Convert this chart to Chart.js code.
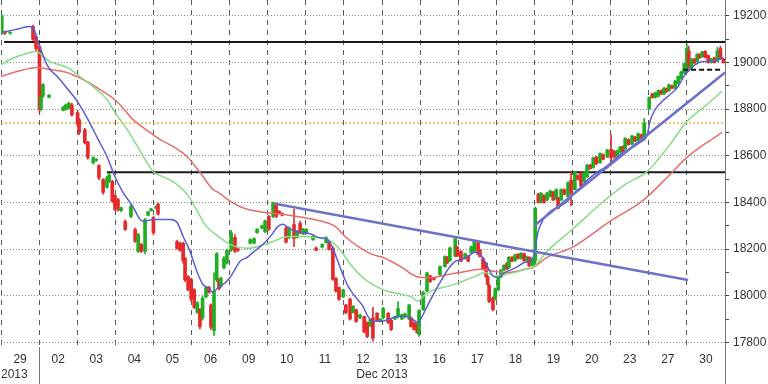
<!DOCTYPE html>
<html><head><meta charset="utf-8">
<script src="https://cdn.jsdelivr.net/npm/chart.js@4/dist/chart.umd.min.js"></script>
<style>html,body{margin:0;padding:0;background:#fff;}canvas{display:block;}</style>
</head><body>
<canvas id="c" width="768" height="384"></canvas>
<script>
// ---- categories / labels ----
const dayLabels = ['29','02','03','04','05','06','09','10','11','12','13','16','17','18','19','20','23','27','30'];
const monthLabels = ['2013','Dec 2013'];
const monthLabelPos = [0.35, 10];
const monthBoundaries = [1, 19];

// ---- candles (time in trading-day units) ----
const candleTime = [
 0.02,0.1,0.24,0.84,0.92,
 1.01,1.05,1.1,1.26,1.63,1.7,1.78,1.86,
 2.01,2.05,2.2,2.28,2.42,2.5,2.57,2.68,2.78,2.84,2.92,2.99,
 3.07,3.15,3.26,3.41,3.52,3.6,3.68,3.78,3.86,3.94,4.0,4.07,4.12,
 4.62,4.7,4.78,4.83,4.91,4.99,
 5.07,5.15,5.22,5.29,5.38,5.46,5.51,5.59,5.66,5.72,5.77,5.85,5.93,
 6.04,6.14,6.22,6.54,6.64,6.72,6.85,6.93,
 7.03,7.14,7.22,7.3,7.38,7.48,7.56,7.69,7.77,7.85,7.93,
 8.01,8.19,8.27,8.43,8.53,8.61,8.71,8.79,8.87,8.98,
 9.05,9.16,9.24,9.32,9.42,9.53,9.61,9.69,9.76,9.87,9.95,
 10.03,10.16,10.24,10.34,10.42,10.52,10.6,10.71,10.76,10.84,10.92,10.97,
 11.08,11.18,11.26,11.36,11.52,11.65,11.71,11.78,11.92,11.97,
 12.07,12.18,12.26,12.34,12.42,12.52,12.57,12.65,12.73,12.77,12.81,12.91,12.97,
 13.05,13.12,13.2,13.28,13.33,13.41,13.49,13.57,13.65,13.73,13.8,13.86,13.94,
 14.02,14.1,14.17,14.25,14.33,14.41,14.49,14.57,14.62,14.7,14.78,14.88,14.96,
 15.06,15.14,15.22,15.3,15.38,15.46,15.54,15.62,15.72,15.8,15.91,
 16.01,16.09,16.17,16.25,16.32,16.38,16.47,16.56,16.64,16.72,16.8,16.88,
 17.01,17.09,17.17,17.25,17.33,17.4,17.47,17.53,17.61,17.69,17.77,17.85,17.93,
 18.0,18.05,18.12,18.2,18.27,18.33,18.4,18.48,18.56,18.64,18.72,18.8,18.88,18.96
];
const candleOpen = [
 19127,19130,19125,19155,19110,
 19068,18800,18855,18850,18795,18800,18805,18818,
 18785,18755,18712,18658,18570,18580,18558,18498,18465,18490,18490,18430,
 18412,18365,18318,18340,18284,18190,18220,18190,18345,18365,18335,18375,18392,
 18232,18225,18225,18160,18082,18070,
 18026,17928,17940,17905,17995,18035,17960,17850,18068,18070,18040,18120,18140,
 18195,18250,18200,18225,18225,18270,18290,18275,
 18340,18340,18390,18362,18352,18290,18250,18305,18250,18310,18265,
 18268,18240,18205,18208,18228,18228,18205,18075,18035,17995,
 17960,17985,17928,17940,17905,17910,17885,17870,17905,17925,17890,
 17905,17925,17895,17900,17910,17900,17910,17900,17905,17885,17880,17835,
 17940,18020,18085,18075,18090,18125,18165,18150,18170,18210,
 18190,18160,18170,18185,18190,18228,18195,18160,18140,18082,18045,17990,17985,
 18025,18080,18110,18140,18120,18165,18150,18178,18160,18180,18150,18165,18130,
 18150,18435,18400,18430,18410,18425,18445,18415,18420,18410,18455,18425,18495,
 18455,18515,18525,18490,18510,18560,18550,18595,18570,18605,18595,
 18628,18620,18600,18615,18640,18630,18670,18650,18680,18665,18690,18672,
 18800,18865,18850,18855,18880,18865,18888,18880,18900,18890,18910,18930,18955,
 18975,19050,18975,19015,19005,19035,19025,19048,19030,19000,19020,19005,19060,19015
];
const candleHigh = [
 19205,19135,19132,19160,19115,
 19075,18860,18910,18862,18812,18822,18830,18825,
 18790,18760,18718,18662,18596,18588,18562,18502,18512,18525,18495,18433,
 18418,18380,18325,18390,18290,18268,18225,18332,18362,18375,18340,18385,18398,
 18238,18230,18230,18165,18086,18075,
 18030,17975,17945,17998,18040,18040,17965,18098,18185,18075,18080,18168,18200,
 18280,18262,18205,18245,18248,18288,18303,18325,
 18345,18400,18398,18365,18356,18295,18295,18370,18280,18320,18288,
 18288,18258,18208,18223,18253,18231,18210,18078,18038,18028,
 17963,17990,17958,17943,17921,17913,17888,17900,17950,17928,17902,
 17950,17928,17898,17913,17975,17921,17925,17963,17908,17888,17883,17940,
 18018,18101,18088,18078,18128,18171,18168,18208,18252,18213,
 18193,18183,18173,18213,18235,18231,18198,18163,18143,18085,18050,17995,18033,
 18083,18113,18133,18143,18168,18168,18178,18181,18185,18183,18170,18168,18163,
 18380,18440,18443,18433,18443,18453,18448,18458,18423,18458,18458,18488,18530,
 18533,18518,18528,18530,18563,18563,18593,18598,18613,18608,18628,
 18690,18623,18625,18641,18643,18678,18673,18688,18683,18698,18693,18760,
 18853,18868,18873,18883,18883,18893,18891,18908,18903,18923,18943,18963,18998,
 19080,19070,19018,19018,19038,19038,19048,19051,19033,19018,19023,19065,19070,19018
];
const candleLow = [
 19120,19120,19122,19095,19050,
 18785,18795,18850,18848,18792,18795,18800,18770,
 18725,18690,18650,18585,18565,18576,18498,18435,18460,18485,18400,18365,
 18362,18360,18280,18335,18228,18185,18185,18180,18342,18362,18262,18372,18345,
 18198,18190,18140,18060,18020,17975,
 17945,17925,17858,17895,17990,18010,17855,17830,18060,18025,18035,18115,18135,
 18190,18185,18190,18222,18222,18267,18287,18270,
 18280,18335,18335,18352,18342,18225,18245,18210,18247,18265,18262,
 18265,18237,18192,18205,18225,18195,18065,18015,17980,17992,
 17922,17895,17925,17885,17902,17840,17820,17867,17805,17892,17887,
 17900,17880,17850,17897,17905,17897,17905,17897,17865,17852,17838,17825,
 17937,18017,18057,18067,18087,18122,18137,18147,18167,18167,
 18145,18157,18145,18182,18187,18175,18165,18109,18079,18045,17970,17935,17982,
 18022,18077,18107,18112,18117,18145,18147,18157,18157,18147,18147,18125,18127,
 18125,18397,18397,18397,18407,18422,18407,18412,18372,18407,18432,18422,18385,
 18452,18497,18467,18487,18507,18542,18547,18562,18567,18582,18592,
 18578,18592,18597,18612,18617,18627,18645,18647,18660,18662,18672,18668,
 18797,18847,18847,18852,18862,18862,18872,18877,18887,18887,18907,18927,18952,
 18965,18970,18972,18995,19002,19017,19022,19019,18997,18997,18997,19002,19012,18997
];
const candleClose = [
 19200,19125,19128,19100,19060,
 18800,18855,18905,18860,18808,18818,18825,18775,
 18735,18700,18655,18593,18592,18585,18505,18443,18505,18518,18405,18370,
 18370,18378,18284,18383,18233,18262,18190,18327,18360,18372,18270,18382,18350,
 18203,18195,18150,18068,18026,17985,
 17950,17970,17867,17990,18035,18015,17865,18020,18180,18030,18075,18160,18195,
 18270,18190,18195,18240,18245,18285,18300,18320,
 18285,18398,18340,18355,18345,18230,18290,18245,18275,18270,18285,
 18285,18255,18195,18220,18250,18198,18070,18020,17985,18025,
 17927,17900,17955,17890,17918,17845,17825,17897,17818,17895,17900,
 17945,17885,17855,17910,17945,17918,17922,17960,17868,17855,17842,17935,
 18015,18098,18060,18070,18125,18168,18140,18205,18245,18170,
 18148,18180,18148,18210,18232,18178,18168,18112,18082,18048,17975,17940,18030,
 18080,18110,18130,18115,18165,18148,18175,18160,18182,18150,18165,18128,18160,
 18375,18400,18440,18400,18440,18450,18410,18455,18375,18455,18435,18485,18440,
 18530,18500,18470,18525,18560,18545,18590,18565,18610,18585,18625,
 18590,18595,18620,18638,18620,18675,18648,18685,18663,18695,18675,18740,
 18850,18850,18870,18880,18865,18890,18875,18905,18890,18920,18940,18960,18995,
 19060,18985,19015,18998,19035,19020,19045,19022,19000,19015,19000,19050,19015,19000
];

// ---- moving averages ----
const maFastTime = [0.03,0.37,0.76,0.87,0.97,1.23,1.5,1.76,2.02,2.28,2.55,2.78,2.99,3.2,3.45,3.65,3.75,3.99,4.44,4.62,4.78,4.96,5.14,5.3,5.43,5.56,5.7,5.83,6.01,6.14,6.27,6.46,6.61,6.75,6.93,7.11,7.27,7.4,7.53,7.72,7.93,8.16,8.32,8.56,8.69,8.82,8.95,9.11,9.29,9.5,9.63,9.76,10.0,10.16,10.42,10.68,10.81,10.94,11.05,11.21,11.39,11.57,11.73,11.92,12.1,12.26,12.44,12.57,12.7,12.83,12.97,13.1,13.23,13.41,13.57,13.75,13.88,13.99,14.09,14.23,14.41,14.62,14.86,15.01,15.2,15.41,15.64,15.85,16.25,16.77,16.96,17.03,17.17,17.35,17.56,17.77,17.9,18.03,18.22,18.43,18.66,18.82,18.95];
const maFastValue = [19129,19141,19154,19141,19090,18983,18936,18884,18829,18756,18670,18597,18511,18443,18385,18327,18319,18327,18327,18314,18254,18190,18104,18048,18036,18014,18036,18048,18078,18113,18147,18164,18186,18203,18229,18263,18297,18306,18293,18276,18271,18263,18250,18241,18211,18156,18100,18040,17997,17954,17911,17890,17890,17898,17911,17911,17898,17886,17911,17963,18019,18070,18113,18147,18156,18169,18186,18177,18147,18104,18079,18083,18100,18113,18126,18143,18147,18177,18271,18327,18361,18379,18404,18434,18464,18499,18529,18550,18606,18657,18691,18747,18799,18833,18863,18897,18936,18961,18991,19004,19004,19013,19021];
const maMidTime = [0,0.24,0.76,0.94,1.1,1.29,1.73,2.07,2.41,2.78,2.99,3.31,3.52,3.83,3.99,4.17,4.59,4.91,5.14,5.35,5.7,6.06,6.46,6.93,7.27,7.53,7.9,8.24,8.58,8.85,9.21,9.55,9.9,10.16,10.52,10.79,10.94,11.13,11.39,11.73,12.1,12.44,12.7,12.97,13.23,13.49,13.75,13.96,14.33,14.99,15.72,16.38,16.96,17.56,18.0,18.53,18.92];
const maMidValue = [18991,19013,19043,19047,19026,19004,18979,18940,18897,18841,18786,18713,18657,18571,18533,18516,18481,18430,18366,18306,18254,18216,18203,18220,18241,18254,18254,18250,18241,18207,18126,18070,18036,18018,18006,17993,17976,18006,18027,18040,18061,18083,18100,18083,18091,18100,18113,18121,18190,18284,18391,18477,18533,18649,18747,18820,18876];
const maSlowTime = [0,0.42,0.94,1.29,1.73,2.15,2.6,3.04,3.46,3.91,4.17,4.51,4.88,5.22,5.56,5.7,6.06,6.4,6.93,7.38,7.9,8.43,8.77,9.03,9.37,9.74,10.03,10.52,10.79,11.0,11.31,11.73,12.18,12.62,12.97,13.31,13.75,13.96,14.33,14.99,15.98,16.85,17.48,18.0,18.53,18.92];
const maSlowValue = [18940,18961,18979,18970,18957,18927,18884,18833,18756,18700,18670,18640,18597,18529,18456,18443,18400,18374,18357,18349,18336,18319,18297,18254,18211,18177,18164,18121,18091,18078,18078,18091,18104,18113,18104,18100,18113,18121,18164,18207,18319,18409,18507,18593,18657,18700];

// ---- drawn levels / trendlines ----
const blackLevels = [19088, 18529];
const blackLevelStart = [0.08, 2.78];
const orangeLevel = 18740;
const dashedLevel = 18969;
const dashedLevelSpan = [17.9, 18.95];
const trendDownTime = [7.19, 18.03];
const trendDownValue = [18394, 18067];
const trendUpTime = [14.0, 19.0];
const trendUpValue = [18301, 18957];
const xEnd = 19;

const pts = (ts, vs) => ts.map((t, i) => ({x: t, y: vs[i]}));
const GREEN = '#1fae22', RED = '#e42a2a';
const candleColor = ctx => candleClose[ctx.dataIndex] >= candleOpen[ctx.dataIndex] ? GREEN : RED;
const lineBase = {type: 'line', pointRadius: 0, fill: false};

Chart.defaults.font.family = "'Liberation Sans', Arial, sans-serif";
Chart.defaults.font.size = 12;
Chart.defaults.color = '#333';

const sepPlugin = {
  id: 'sep',
  afterDraw(chart) {
    const xs = chart.scales.x, ctx = chart.ctx, top = chart.chartArea.bottom;
    ctx.save();
    ctx.strokeStyle = '#777';
    ctx.lineWidth = 1;
    monthBoundaries.forEach(v => {
      const px = Math.round(xs.getPixelForValue(v)) + 0.5;
      ctx.beginPath(); ctx.moveTo(px, top); ctx.lineTo(px, chart.height); ctx.stroke();
    });
    ctx.restore();
  }
};

const datasets = [
  Object.assign({}, lineBase, {data: pts(trendDownTime, trendDownValue), borderColor: '#6e72c6', borderWidth: 2.5, order: 1}),
  Object.assign({}, lineBase, {data: pts(trendUpTime, trendUpValue), borderColor: '#6e72c6', borderWidth: 2.5, order: 1}),
  Object.assign({}, lineBase, {data: pts(maFastTime, maFastValue), borderColor: '#5b5dd0', borderWidth: 1.5, cubicInterpolationMode: 'monotone', order: 2}),
  Object.assign({}, lineBase, {data: pts(maMidTime, maMidValue), borderColor: '#86dc86', borderWidth: 1.5, cubicInterpolationMode: 'monotone', order: 2}),
  Object.assign({}, lineBase, {data: pts(maSlowTime, maSlowValue), borderColor: '#e26e6e', borderWidth: 1.5, cubicInterpolationMode: 'monotone', order: 2}),
  {type: 'bar', data: candleTime.map((t, i) => ({x: t, y: [candleOpen[i], candleClose[i]]})), backgroundColor: candleColor, barThickness: 3, grouped: false, minBarLength: 1, borderWidth: 0, order: 3},
  {type: 'bar', data: candleTime.map((t, i) => ({x: t, y: [candleLow[i], candleHigh[i]]})), backgroundColor: candleColor, barThickness: 1, grouped: false, borderWidth: 0, order: 4},
  Object.assign({}, lineBase, {data: [{x: blackLevelStart[0], y: blackLevels[0]}, {x: xEnd, y: blackLevels[0]}], borderColor: '#1a1a1a', borderWidth: 2, order: 5}),
  Object.assign({}, lineBase, {data: [{x: blackLevelStart[1], y: blackLevels[1]}, {x: xEnd, y: blackLevels[1]}], borderColor: '#1a1a1a', borderWidth: 2, order: 5}),
  Object.assign({}, lineBase, {data: [{x: 0, y: orangeLevel}, {x: xEnd, y: orangeLevel}], borderColor: '#f0b040', borderWidth: 1.5, borderDash: [2, 2], order: 5}),
  Object.assign({}, lineBase, {data: [{x: dashedLevelSpan[0], y: dashedLevel}, {x: dashedLevelSpan[1], y: dashedLevel}], borderColor: '#111', borderWidth: 2, borderDash: [5, 3], order: 0})
];

new Chart(document.getElementById('c'), {
  type: 'bar',
  data: {datasets},
  plugins: [sepPlugin],
  options: {
    responsive: false, animation: false, devicePixelRatio: 1, events: [],
    layout: {padding: {left: 1, right: 0, top: 0, bottom: 0}},
    plugins: {legend: {display: false}, tooltip: {enabled: false}},
    scales: {
      x: {
        type: 'linear', min: 0, max: xEnd, offset: false, position: 'bottom', weight: 0,
        ticks: {display: false, stepSize: 1},
        grid: {offset: false, drawTicks: false, lineWidth: 1, color: ctx => (ctx.tick && ctx.tick.value >= xEnd) ? 'rgba(0,0,0,0)' : '#5a5a5a'},
        border: {display: false, dash: [5, 5]},
        afterFit: s => { s.height = 0; s.paddingLeft = 0; s.paddingRight = 0; }
      },
      xl: {
        type: 'linear', min: 0, max: xEnd, offset: false, position: 'bottom', weight: 1,
        afterBuildTicks: s => { s.ticks = dayLabels.map((_, i) => ({value: i + 0.5})); },
        ticks: {autoSkip: false, maxRotation: 0, padding: 5, color: '#333', callback: (v, i) => dayLabels[i]},
        grid: {display: false, drawTicks: false}, border: {display: false},
        afterFit: s => { s.height = 17; s.paddingLeft = 0; s.paddingRight = 0; }
      },
      xm: {
        type: 'linear', min: 0, max: xEnd, offset: false, position: 'bottom', weight: 2,
        afterBuildTicks: s => { s.ticks = monthLabelPos.map(v => ({value: v})); },
        ticks: {autoSkip: false, maxRotation: 0, padding: 3, color: '#333', callback: (v, i) => monthLabels[i]},
        grid: {display: false, drawTicks: false}, border: {display: false},
        afterFit: s => { s.height = 20; s.paddingLeft = 0; s.paddingRight = 0; }
      },
      y: {
        position: 'right', min: 17780, max: 19268,
        ticks: {stepSize: 100, includeBounds: false, autoSkip: false, padding: 4, color: '#333',
                callback: v => (v % 200 === 0 ? String(v) : '')},
        grid: {lineWidth: 1, tickLength: 4, tickColor: '#444',
               color: ctx => (ctx.tick && ctx.tick.value % 200 === 0) ? '#8a8a8a' : 'rgba(0,0,0,0)'},
        border: {display: true, color: '#777', width: 1, dash: [1, 2]},
        afterFit: s => { s.width = 43; s.paddingTop = 0; s.paddingBottom = 0; }
      }
    }
  }
});
</script>
</body></html>
